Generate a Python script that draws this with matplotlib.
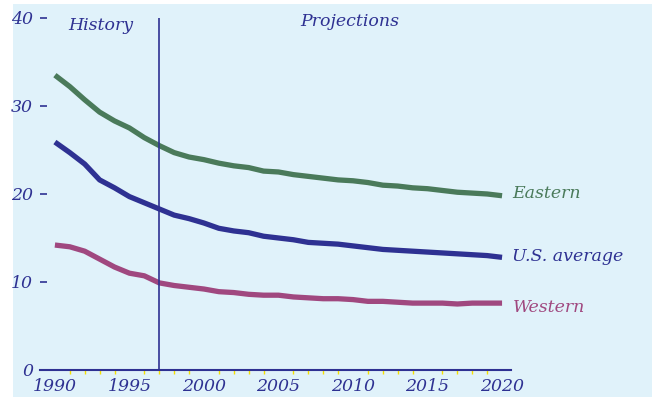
import numpy as np
import matplotlib.pyplot as plt
from matplotlib.patches import Rectangle

# 연도와 세 지역의 값
years = list(range(1990, 2021))
eastern = [33.5, 32.2, 30.7, 29.3, 28.3, 27.5, 26.4, 25.5, 24.7, 24.2, 23.9,
           23.5, 23.2, 23.0, 22.6, 22.5, 22.2, 22.0, 21.8, 21.6, 21.5,
           21.3, 21.0, 20.9, 20.7, 20.6, 20.4, 20.2, 20.1, 20.0, 19.8]
us_avg = [25.9, 24.7, 23.4, 21.6, 20.7, 19.7, 19.0, 18.3, 17.6, 17.2, 16.7,
          16.1, 15.8, 15.6, 15.2, 15.0, 14.8, 14.5, 14.4, 14.3, 14.1,
          13.9, 13.7, 13.6, 13.5, 13.4, 13.3, 13.2, 13.1, 13.0, 12.8]
western = [14.2, 14.0, 13.5, 12.6, 11.7, 11.0, 10.7, 9.9, 9.6, 9.4, 9.2,
           8.9, 8.8, 8.6, 8.5, 8.5, 8.3, 8.2, 8.1, 8.1, 8.0,
           7.8, 7.8, 7.7, 7.6, 7.6, 7.6, 7.5, 7.6, 7.6, 7.6]
major_years = [1990, 1995, 2000, 2005, 2010, 2015, 2020]
minor_years = [y for y in years if y % 5 != 0]
y_ticks = [0, 10, 20, 30, 40]
split_year = 1997

W, H = 652, 397
bg = '#e0f2fa'
navy = '#2e3192'
green = '#4a7a5a'
pink = '#a0487f'
plt.rcParams['font.family'] = ['DejaVu Serif']

fig = plt.figure(figsize=(W / 100, H / 100), dpi=100)
fig.patch.set_facecolor('white')
fig.patches.append(Rectangle((13 / W, 0), 1 - 13 / W, 1 - 4 / H,
                             transform=fig.transFigure, facecolor=bg,
                             edgecolor='none', zorder=-10))

# 축 위치: x 40..511 px, y 370(0)..18(40) px
ax = fig.add_axes([40 / W, (H - 370) / H, (511 - 40) / W, (370 - 14) / H])
ax.set_facecolor('none')
ax.set_xlim(1989.0, 2020.6)
ax.set_ylim(0, 40.45)

lw = 3.8
ax.plot(years, eastern, color=green, lw=lw, solid_capstyle='butt')
ax.plot(years, us_avg, color=navy, lw=lw, solid_capstyle='butt')
ax.plot(years, western, color=pink, lw=lw, solid_capstyle='butt')

ax.vlines(split_year, 0, 40, color=navy, lw=1.2)

for s in ['top', 'right', 'left']:
    ax.spines[s].set_visible(False)
ax.spines['bottom'].set_color(navy)
ax.spines['bottom'].set_linewidth(1.5)

fs = 12.5
ax.set_xticks(major_years)
ax.set_xticklabels([str(y) for y in major_years], fontsize=fs, style='italic', color=navy)
ax.tick_params(axis='x', which='major', length=0, pad=6)
ax.set_xticks(minor_years, minor=True)
ax.tick_params(axis='x', which='minor', length=3, width=1, color='#f5e000', direction='out')

ax.set_yticks(y_ticks)
ax.set_yticklabels([str(v) for v in y_ticks], fontsize=fs, style='italic', color=navy)
ax.tick_params(axis='y', length=5, width=1.2, color=navy, pad=5, direction='in')

ax.text(1993.1, 39.2, 'History', fontsize=fs, style='italic', color=navy, ha='center', va='center')
ax.text(2009.8, 39.6, 'Projections', fontsize=fs, style='italic', color=navy, ha='center', va='center')

ax.text(2020.7, eastern[-1] + 0.3, 'Eastern', fontsize=fs, style='italic', color=green,
        ha='left', va='center', clip_on=False)
ax.text(2020.7, us_avg[-1] + 0.1, 'U.S. average', fontsize=fs, style='italic', color=navy,
        ha='left', va='center', clip_on=False)
ax.text(2020.7, western[-1] - 0.45, 'Western', fontsize=fs, style='italic', color=pink,
        ha='left', va='center', clip_on=False)

fig.savefig('out.png', dpi=100)
